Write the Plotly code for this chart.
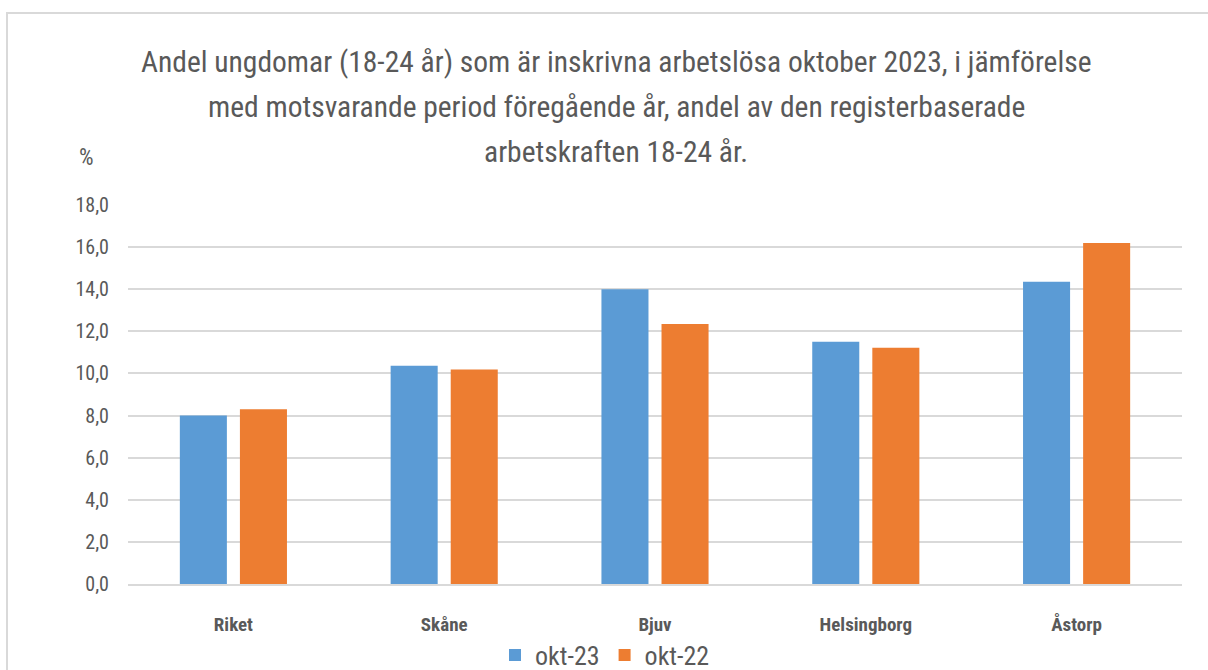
import plotly.graph_objects as go

categories = ["Riket", "Skåne", "Bjuv", "Helsingborg", "Åstorp"]
okt23 = [8.0, 10.37, 14.0, 11.5, 14.35]
okt22 = [8.3, 10.19, 12.35, 11.22, 16.19]
series_names = ["okt-23", "okt-22"]
title_lines = [
    "Andel ungdomar (18-24 år) som är inskrivna arbetslösa oktober 2023, i jämförelse",
    "med motsvarande period föregående år, andel av den registerbaserade",
    "arbetskraften 18-24 år.",
]

FONT = "Liberation Sans Narrow, Arial Narrow, Roboto Condensed, sans-serif"
TXT = "#595959"

W, H = 1208, 670
L, R, T, B = 128, 26, 205, 86
PW, PH = W - L - R, H - T - B


def px(x):
    return (x - L) / PW


def py(y):
    return (H - B - y) / PH


fig = go.Figure()
fig.add_trace(go.Bar(x=categories, y=okt23, name=series_names[0],
                     marker=dict(color="#5B9BD5", line=dict(width=0))))
fig.add_trace(go.Bar(x=categories, y=okt22, name=series_names[1],
                     marker=dict(color="#ED7D31", line=dict(width=0))))

annotations = []
for line, yc in zip(title_lines, [62, 107, 152]):
    annotations.append(dict(text=line, x=px(616), y=py(yc), xref="paper", yref="paper",
                            xanchor="center", yanchor="middle", showarrow=False,
                            font=dict(family=FONT, size=29.5, color=TXT)))
annotations.append(dict(text="%", x=px(86), y=py(158), xref="paper", yref="paper",
                        xanchor="center", yanchor="middle", showarrow=False,
                        font=dict(family=FONT, size=23, color=TXT)))

shapes = [
    dict(type="line", xref="paper", yref="paper", x0=px(6), x1=px(1208), y0=py(13), y1=py(13),
         line=dict(color="#D9D9D9", width=2)),
    dict(type="line", xref="paper", yref="paper", x0=px(7), x1=px(7), y0=py(13), y1=py(670),
         line=dict(color="#D9D9D9", width=2)),
]

fig.update_layout(
    width=W, height=H,
    margin=dict(l=L, r=R, t=T, b=B, pad=0, autoexpand=False),
    paper_bgcolor="white", plot_bgcolor="white",
    barmode="group", bargap=0.43, bargroupgap=0.217,
    separators=", ",
    font=dict(family=FONT, color=TXT),
    annotations=annotations, shapes=shapes,
    showlegend=True,
    legend=dict(orientation="h", x=px(605), y=1 - 655 / H, xref="paper", yref="container",
                xanchor="center", yanchor="middle",
                font=dict(family=FONT, size=26, color=TXT), bgcolor="rgba(0,0,0,0)",
                itemwidth=30, traceorder="normal"),
    xaxis=dict(showgrid=False, showline=True, linecolor="#D9D9D9", linewidth=2,
               ticks="", ticklabelstandoff=22,
               tickfont=dict(family=FONT, size=19, color=TXT, weight="bold")),
    yaxis=dict(range=[0, 18], dtick=2, tick0=0, tickformat=".1f", showgrid=True,
               gridcolor="#D9D9D9", gridwidth=2, zeroline=False, showline=False,
               ticks="", ticklabelstandoff=18,
               tickfont=dict(family=FONT, size=20, color=TXT)),
)

fig.write_html("out.html", config={"displayModeBar": False},
               post_script="document.body.style.margin='0';")
